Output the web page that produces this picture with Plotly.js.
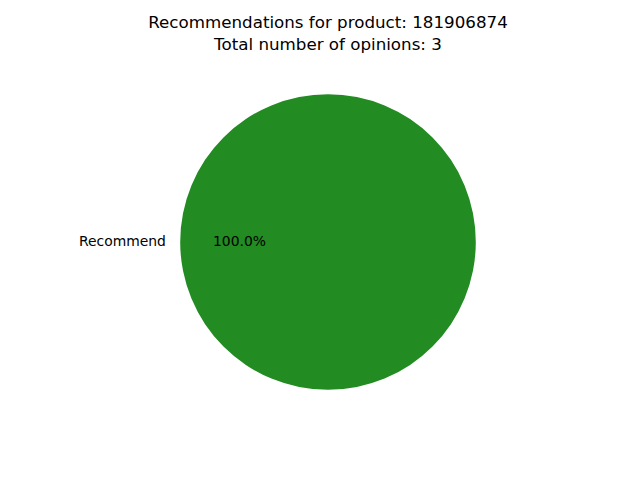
<!DOCTYPE html>
<html>
<head>
<meta charset="utf-8">
<script src="https://cdn.plot.ly/plotly-3.0.1.min.js"></script>
<style>html,body{margin:0;padding:0;background:#fff;}#chart{width:640px;height:480px;}</style>
</head>
<body>
<div id="chart"></div>
<script>
const productId = "181906874";
const labels = ["Recommend"];
const values = [3];
const colors = ["#228B22"];

const W = 640, H = 480;
const cx = 328, cy = 242, r = 147.8;
const total = values.reduce((a, b) => a + b, 0);

const trace = {
  type: "pie",
  labels: labels,
  values: values,
  sort: false,
  direction: "counterclockwise",
  rotation: 90,
  marker: {colors: colors, line: {width: 0}},
  textinfo: "none",
  hoverinfo: "label+percent",
  showlegend: false,
  domain: {x: [(cx - r) / W, (cx + r) / W], y: [1 - (cy + r) / H, 1 - (cy - r) / H]}
};

// label positions (matplotlib style: label at 1.1 r, pct at 0.6 r, mid-angle of slice)
const annotations = [];
let acc = 0;
values.forEach((v, i) => {
  const frac = v / total;
  const mid = (acc + frac / 2) * 2 * Math.PI; // start angle 0 (east), counterclockwise
  acc += frac;
  const cosA = Math.cos(mid), sinA = Math.sin(mid);
  annotations.push({
    text: labels[i],
    xref: "paper", yref: "paper",
    x: (cx + 1.1 * r * cosA) / W, y: 1 - (cy - 1.1 * r * sinA) / H,
    xanchor: cosA < 0 ? "right" : "left", yanchor: "middle",
    xshift: cosA < 0 ? 3 : -3, yshift: 1,
    showarrow: false,
    font: {family: "DejaVu Sans", size: 13.9, color: "#000"}
  });
  annotations.push({
    text: (frac * 100).toFixed(1) + "%",
    xref: "paper", yref: "paper",
    x: (cx + 0.6 * r * cosA) / W, y: 1 - (cy - 0.6 * r * sinA) / H,
    xanchor: "center", yanchor: "middle", yshift: 1,
    showarrow: false,
    font: {family: "DejaVu Sans", size: 13.9, color: "#000"}
  });
});

const layout = {
  width: W, height: H,
  margin: {l: 0, r: 0, t: 0, b: 0},
  paper_bgcolor: "#fff",
  plot_bgcolor: "#fff",
  title: {
    text: "Recommendations for product: " + productId + "<br>Total number of opinions: " + total,
    font: {family: "DejaVu Sans", size: 16.7, color: "#000"},
    x: 328 / W, xanchor: "center",
    yref: "container", y: 1 - 28 / H, yanchor: "top"
  },
  annotations: annotations
};

Plotly.newPlot("chart", [trace], layout, {displayModeBar: false, staticPlot: true});
</script>
</body>
</html>
